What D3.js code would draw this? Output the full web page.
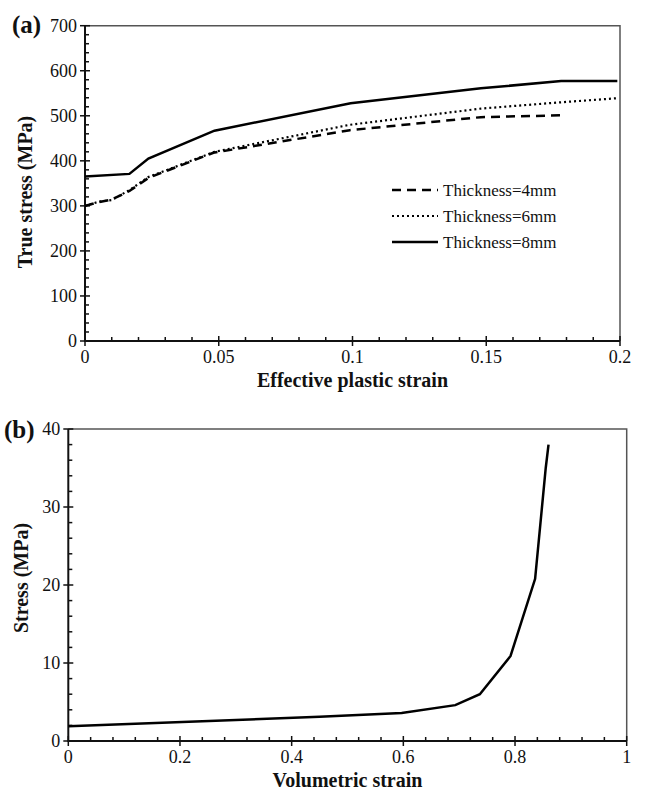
<!DOCTYPE html>
<html>
<head>
<meta charset="utf-8">
<script src="https://cdn.jsdelivr.net/npm/d3@7"></script>
<style>
  body { margin: 0; background: #fff; }
  svg { font-family: "Liberation Serif", "Times New Roman", serif; }
  .tick-label { font-size: 18px; fill: #111; }
  .axis-title { font-size: 20px; font-weight: bold; fill: #111; }
  .panel-label { font-size: 25px; font-weight: bold; fill: #111; }
  .legend text { font-size: 17px; fill: #111; }
</style>
</head>
<body>
<svg id="chart" width="645" height="790"></svg>
<script>
// panel (a): true stress vs effective plastic strain
const seriesNames = ['Thickness=4mm', 'Thickness=6mm', 'Thickness=8mm'];
const strain4 = [0, 0.005, 0.01, 0.0166, 0.0237, 0.048, 0.099, 0.148, 0.178];
const stress4 = [300, 308, 314, 333, 362, 418, 468, 497, 501];
const strain6 = [0, 0.005, 0.01, 0.0166, 0.0237, 0.0484, 0.099, 0.148, 0.178, 0.199];
const stress6 = [300, 309, 313, 335, 364, 420, 480, 516, 530, 539];
const strain8 = [0, 0.0166, 0.0237, 0.0484, 0.0993, 0.148, 0.178, 0.199];
const stress8 = [365, 371, 405, 467, 528, 561, 577, 577];
const xTicksA = [0, 0.05, 0.1, 0.15, 0.2];
const yTicksA = [0, 100, 200, 300, 400, 500, 600, 700];

// panel (b): stress vs volumetric strain
const volStrain = [0, 0.45, 0.597, 0.693, 0.737, 0.792, 0.836, 0.855, 0.86];
const volStress = [1.9, 3.1, 3.6, 4.6, 6.0, 10.9, 20.8, 35, 38];
const xTicksB = [0, 0.2, 0.4, 0.6, 0.8, 1];
const yTicksB = [0, 10, 20, 30, 40];

const svg = d3.select('#chart');
const fmt = d3.format('~g');

function drawFrame(g, x, y, opts) {
    const [x0, x1] = x.range();
    const [y0, y1] = y.range();

    // top & right border (grey)
    g.append('path')
        .attr('d', `M${x0},${y1}H${x1}V${y0}`)
        .attr('fill', 'none')
        .attr('stroke', '#555')
        .attr('stroke-width', 1.5);

    // minor ticks, inward
    g.selectAll('.xminor').data(opts.xMinor).enter().append('line')
        .attr('x1', d => x(d)).attr('x2', d => x(d))
        .attr('y1', y0).attr('y2', y0 - 4)
        .attr('stroke', '#111').attr('stroke-width', 1.5);
    g.selectAll('.yminor').data(opts.yMinor).enter().append('line')
        .attr('x1', x0).attr('x2', x0 + 4)
        .attr('y1', d => y(d)).attr('y2', d => y(d))
        .attr('stroke', '#111').attr('stroke-width', 1.5);

    // major ticks, crossing
    g.selectAll('.xmajor').data(opts.xTicks).enter().append('line')
        .attr('x1', d => x(d)).attr('x2', d => x(d))
        .attr('y1', y0 + 5).attr('y2', y0 - 5)
        .attr('stroke', '#111').attr('stroke-width', 1.5);
    g.selectAll('.ymajor').data(opts.yTicks).enter().append('line')
        .attr('x1', x0 - 5).attr('x2', x0 + 5)
        .attr('y1', d => y(d)).attr('y2', d => y(d))
        .attr('stroke', '#111').attr('stroke-width', 1.5);

    // left & bottom axis lines
    g.append('path')
        .attr('d', `M${x0},${y1}V${y0}H${x1}`)
        .attr('fill', 'none')
        .attr('stroke', '#111')
        .attr('stroke-width', 2);

    g.selectAll('.xlab').data(opts.xTicks).enter().append('text')
        .attr('class', 'tick-label')
        .attr('x', d => x(d))
        .attr('y', y0 + 22)
        .attr('text-anchor', 'middle')
        .text(d => fmt(d));
    g.selectAll('.ylab').data(opts.yTicks).enter().append('text')
        .attr('class', 'tick-label')
        .attr('x', x0 - 8)
        .attr('y', d => y(d))
        .attr('dy', '0.34em')
        .attr('text-anchor', 'end')
        .text(d => fmt(d));

    g.append('text')
        .attr('class', 'axis-title')
        .attr('x', (x0 + x1) / 2)
        .attr('y', y0 + 46)
        .attr('text-anchor', 'middle')
        .text(opts.xTitle);
    g.append('text')
        .attr('class', 'axis-title')
        .attr('transform', `translate(${opts.yTitleX},${opts.yTitleY}) rotate(-90)`)
        .attr('text-anchor', 'middle')
        .text(opts.yTitle);

    g.append('text')
        .attr('class', 'panel-label')
        .attr('x', opts.labelX)
        .attr('y', y1 + opts.labelDy)
        .text(opts.label);
}

// ---------- panel (a)
const xA = d3.scaleLinear().domain([0, 0.2]).range([85, 620]);
const yA = d3.scaleLinear().domain([0, 700]).range([341, 25.7]);
const gA = svg.append('g');

drawFrame(gA, xA, yA, {
    xTicks: xTicksA,
    yTicks: yTicksA,
    xMinor: d3.range(0, 0.2001, 0.01).filter(v => !xTicksA.some(t => Math.abs(t - v) < 1e-6)),
    yMinor: d3.range(0, 701, 20).filter(v => v % 100 !== 0),
    xTitle: 'Effective plastic strain',
    yTitle: 'True stress (MPa)',
    yTitleX: 31.5,
    yTitleY: 192,
    label: '(a)',
    labelX: 12,
    labelDy: 7
});

const lineA = d3.line().x(d => xA(d[0])).y(d => yA(d[1]));
const seriesA = [
    { name: seriesNames[0], pts: d3.zip(strain4, stress4), dash: '9,6', width: 2.5 },
    { name: seriesNames[1], pts: d3.zip(strain6, stress6), dash: '2,3', width: 2.2 },
    { name: seriesNames[2], pts: d3.zip(strain8, stress8), dash: null, width: 2.5 }
];

gA.selectAll('.curve').data(seriesA).enter().append('path')
    .attr('class', 'curve')
    .attr('d', d => lineA(d.pts))
    .attr('fill', 'none')
    .attr('stroke', '#000')
    .attr('stroke-width', d => d.width)
    .attr('stroke-dasharray', d => d.dash);

const legend = gA.append('g').attr('class', 'legend');
const legItems = legend.selectAll('g').data(seriesA).enter().append('g')
    .attr('transform', (d, i) => `translate(392,${190 + i * 26})`);
legItems.append('line')
    .attr('x1', 0).attr('x2', 46)
    .attr('stroke', '#000')
    .attr('stroke-width', d => d.width)
    .attr('stroke-dasharray', d => d.dash);
legItems.append('text')
    .attr('x', 51)
    .attr('dy', '0.34em')
    .text(d => d.name);

// ---------- panel (b)
const xB = d3.scaleLinear().domain([0, 1]).range([68.3, 626.7]);
const yB = d3.scaleLinear().domain([0, 40]).range([741, 429]);
const gB = svg.append('g');

drawFrame(gB, xB, yB, {
    xTicks: xTicksB,
    yTicks: yTicksB,
    xMinor: d3.range(0, 1.0001, 0.04).filter(v => !xTicksB.some(t => Math.abs(t - v) < 1e-6)),
    yMinor: d3.range(0, 41, 2).filter(v => v % 10 !== 0),
    xTitle: 'Volumetric strain',
    yTitle: 'Stress (MPa)',
    yTitleX: 28,
    yTitleY: 578,
    label: '(b)',
    labelX: 4,
    labelDy: 9
});

const lineB = d3.line().x(d => xB(d[0])).y(d => yB(d[1]));
gB.append('path')
    .datum(d3.zip(volStrain, volStress))
    .attr('d', lineB)
    .attr('fill', 'none')
    .attr('stroke', '#000')
    .attr('stroke-width', 2.5);
</script>
</body>
</html>
